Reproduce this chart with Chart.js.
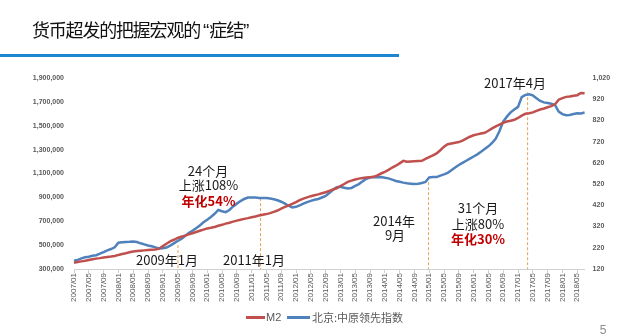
<!DOCTYPE html>
<html><head><meta charset="utf-8">
<script src="https://cdn.jsdelivr.net/npm/chart.js@4.4.1/dist/chart.umd.min.js"></script>
<style>
html,body{margin:0;padding:0;background:#fff;width:640px;height:335px;overflow:hidden;}
body{position:relative;font-family:"Noto Sans CJK SC","Liberation Sans",sans-serif;}
#c{position:absolute;left:0;top:0;}
.t{position:absolute;white-space:nowrap;transform:translate(-50%,-50%);font-size:13px;color:#1a1a1a;line-height:1;}
.r{color:#c00000;font-weight:bold;}
#title{position:absolute;left:32px;top:29.5px;transform:translateY(-50%);font-size:18px;letter-spacing:-1.2px;line-height:1;color:#111;white-space:nowrap;}
#title .q{font-family:"Liberation Sans",sans-serif;font-size:19px;letter-spacing:0;}
#bar{position:absolute;left:0;top:54px;width:399px;height:3px;background:#1b86d2;}
.lg{position:absolute;height:3px;}
.lt{position:absolute;font-size:11px;color:#595959;line-height:1;transform:translateY(-50%);white-space:nowrap;}
#pg{position:absolute;left:603px;top:330px;transform:translate(-50%,-50%);font-size:12px;color:#8c8c8c;font-family:"Liberation Sans",sans-serif;line-height:1;}
</style></head>
<body>
<canvas id="c" width="640" height="335"></canvas>
<div id="title">货币超发的把握宏观的<span class="q" style="margin-left:3px">“</span>症结<span class="q">”</span></div>
<div id="bar"></div>

<div class="t" style="left:208px;top:170px">24个月</div>
<div class="t" style="left:208.5px;top:184px">上涨108%</div>
<div class="t r" style="left:208.5px;top:199.5px">年化54%</div>
<div class="t" style="left:167px;top:259px">2009年1月</div>
<div class="t" style="left:254px;top:259px">2011年1月</div>
<div class="t" style="left:394px;top:219.5px">2014年</div>
<div class="t" style="left:395px;top:234px">9月</div>
<div class="t" style="left:478px;top:207px">31个月</div>
<div class="t" style="left:478px;top:223px">上涨80%</div>
<div class="t r" style="left:478px;top:238px">年化30%</div>
<div class="t" style="left:515px;top:82px">2017年4月</div>

<div class="lg" style="left:246px;top:315.5px;width:19px;background:#c0504d"></div>
<div class="lt" style="left:266px;top:317px;font-family:'Liberation Sans',sans-serif">M2</div>
<div class="lg" style="left:287px;top:315.5px;width:23px;background:#4f81bd"></div>
<div class="lt" style="left:312px;top:317px">北京:中原领先指数</div>
<div id="pg">5</div>

<script>
// categories: monthly 2007/01 .. 2018/07
const months = [];
for (let y = 2007; y <= 2018; y++) {
  for (let m = 1; m <= 12; m++) {
    if (y === 2018 && m > 7) break;
    months.push(y + '/' + String(m).padStart(2, '0'));
  }
}

// M2 (亿元, left axis)
const m2 = [
 352000,358000,364000,369000,375000,381000,387000,391000,396000,400000,404000,409000,
 418000,425000,432000,440000,446000,450000,453000,456000,459000,461000,463000,470000,
 492000,512000,531000,545000,560000,570000,580000,590000,600000,610000,620000,630000,
 640000,645000,652000,662000,670000,680000,688000,697000,705000,713000,720000,726000,
 733000,740000,748000,754000,760000,768000,778000,790000,805000,820000,832000,845000,
 860000,877000,890000,900000,910000,918000,925000,934000,943000,955000,966000,976000,
 995000,1012000,1030000,1040000,1050000,1057000,1062000,1066000,1069000,1072000,1085000,1100000,
 1114000,1130000,1150000,1165000,1185000,1206000,1198000,1200000,1202000,1204000,1206000,1222000,
 1238000,1252000,1268000,1295000,1325000,1345000,1352000,1358000,1363000,1375000,1392000,1408000,
 1420000,1428000,1435000,1441000,1458000,1478000,1495000,1510000,1525000,1535000,1542000,1550000,
 1565000,1585000,1600000,1605000,1612000,1625000,1636000,1645000,1655000,1664000,1680000,1718000,
 1732000,1742000,1745000,1752000,1756000,1775000,1772000
];

// 北京:中原领先指数 (right axis)
const leadIndex = [
 159,163,170,175,178,182,185,192,200,208,214,222,
 244,246,247,248,250,247,241,236,231,227,222,217,
 218,221,230,241,252,262,275,290,300,312,325,340,
 352,365,380,398,392,388,398,415,428,440,450,457,
 457,457,455,455,454,452,449,444,437,428,418,410,
 413,420,428,435,441,446,450,457,464,478,493,505,
 507,503,499,502,512,520,533,545,551,553,552,553,
 550,547,541,535,531,527,524,522,520,522,525,530,
 551,553,553,560,566,573,585,598,610,620,630,640,
 650,660,672,685,698,714,735,770,815,838,858,872,
 884,930,940,943,938,925,912,905,902,899,893,862,
 850,845,846,850,854,853,857
];

// axis tick settings
const leftTicks = {min: 300000, max: 1900000, step: 200000};
const rightTicks = {min: 120, max: 1020, step: 100};
const labelEvery = 4;

// annotation markers: category position, axis, value where dashed line starts
const markerPos = [28.1, 50.4, 95.8, 122.6];
const markerAxis = ['y', 'y1', 'y1', 'y1'];
const markerTop = [500000, 454, 529, 953];

const markerPlugin = {
  id: 'markers',
  beforeDatasetsDraw(chart) {
    const {ctx, chartArea, scales} = chart;
    ctx.save();
    ctx.strokeStyle = '#e9a154';
    ctx.lineWidth = 1;
    ctx.setLineDash([3, 2]);
    markerPos.forEach((p, i) => {
      const x = scales.x.getPixelForValue(p);
      const y0 = scales[markerAxis[i]].getPixelForValue(markerTop[i]);
      ctx.beginPath();
      ctx.moveTo(x, y0);
      ctx.lineTo(x, chartArea.bottom);
      ctx.stroke();
    });
    ctx.restore();
  }
};

const fmt = v => Number(v).toLocaleString('en-US');

new Chart(document.getElementById('c'), {
  type: 'line',
  data: {
    labels: months,
    datasets: [
      {label: 'M2', data: m2, yAxisID: 'y', borderColor: '#c0504d', borderWidth: 2.5},
      {label: '北京:中原领先指数', data: leadIndex, yAxisID: 'y1', borderColor: '#4f81bd', borderWidth: 2.5}
    ]
  },
  plugins: [markerPlugin],
  options: {
    responsive: false,
    animation: false,
    layout: {padding: {left: 10, right: 10.4, top: 78, bottom: 26}},
    plugins: {legend: {display: false}, tooltip: {enabled: false}},
    elements: {point: {radius: 0}, line: {tension: 0, fill: false}},
    scales: {
      x: {
        type: 'category', offset: false,
        grid: {display: true, drawOnChartArea: false, drawTicks: true, tickLength: 4,
               color: c => (c.index % labelEvery === 0 ? '#d0d0d0' : 'rgba(0,0,0,0)')},
        border: {display: true, color: '#d0d0d0'},
        ticks: {autoSkip: false, minRotation: 90, maxRotation: 90, padding: 0,
                font: {size: 8, family: 'Liberation Sans'}, color: '#595959',
                callback: (v, i) => (i % labelEvery === 0 ? months[i] : '')},
        afterFit: s => { s.height = 40; }
      },
      y: {
        position: 'left', min: leftTicks.min, max: leftTicks.max,
        ticks: {stepSize: leftTicks.step, padding: 10, font: {size: 7, weight: 'bold', family: 'Liberation Sans'},
                color: '#595959', callback: fmt},
        grid: {display: false, drawTicks: false}, border: {display: false},
        afterFit: s => { s.width = 64; }
      },
      y1: {
        position: 'right', min: rightTicks.min, max: rightTicks.max,
        ticks: {stepSize: rightTicks.step, padding: 8, font: {size: 7, weight: 'bold', family: 'Liberation Sans'},
                color: '#595959', callback: fmt},
        grid: {display: false, drawTicks: false}, border: {display: false},
        afterFit: s => { s.width = 45; }
      }
    }
  }
});
</script>
</body></html>
